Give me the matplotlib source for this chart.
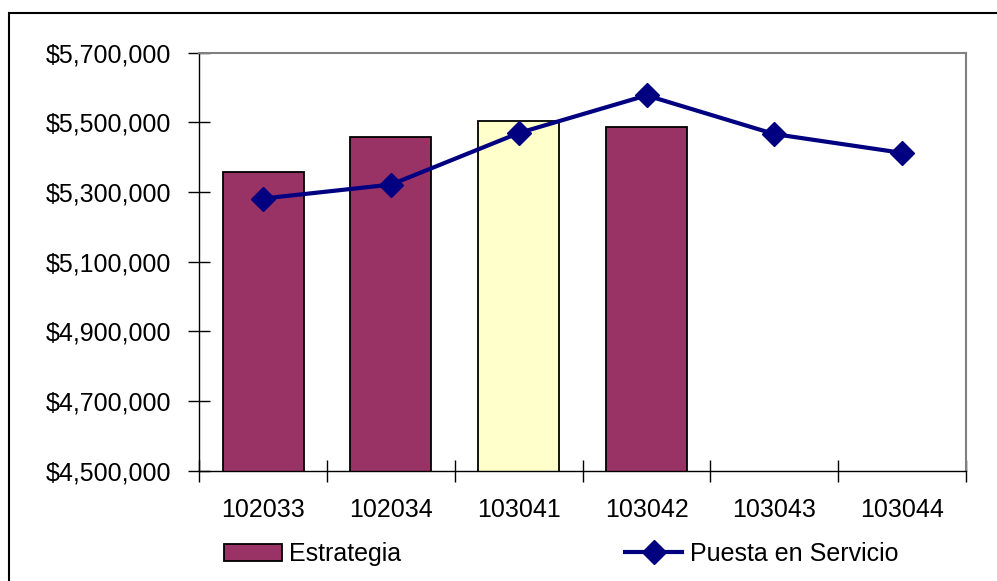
import matplotlib.pyplot as plt
import numpy as np
from matplotlib.patches import Rectangle
from matplotlib.ticker import FuncFormatter

plt.rcParams['font.family'] = ['Liberation Sans', 'DejaVu Sans']

categorias = ['102033', '102034', '103041', '103042', '103043', '103044']
estrategia = [5356000, 5458000, 5504000, 5487000]
colores_barras = ['#993366', '#993366', '#FFFFCC', '#993366']
puesta_servicio = [5281000, 5321000, 5469000, 5577000, 5466000, 5412000]

fig = plt.figure(figsize=(9.97, 5.81), dpi=100)
ax = fig.add_axes([0.1999, 0.1899, 0.7690, 0.7197])

# marco exterior del grafico
fig.patches.append(Rectangle((9 / 997, -0.1), 1.2, 1 - 13 / 581 + 0.1,
                             transform=fig.transFigure, fill=False,
                             edgecolor='black', linewidth=1.5))

x = np.arange(len(categorias))
barras = ax.bar(x[:len(estrategia)], estrategia, width=0.634, color=colores_barras,
                edgecolor='black', linewidth=1.3, zorder=2, label='Estrategia')
linea, = ax.plot(x, puesta_servicio, color='#000080', linewidth=3, marker='D',
                 markersize=12, zorder=3, label='Puesta en Servicio')

ax.set_xlim(-0.5, len(categorias) - 0.5)
ax.set_ylim(4500000, 5700000)
ax.set_yticks(np.arange(4500000, 5700001, 200000))
ax.yaxis.set_major_formatter(FuncFormatter(lambda v, p: '${:,.0f}'.format(v)))

ax.set_xticks(np.arange(len(categorias) + 1) - 0.5)
ax.set_xticklabels([])
ax.set_xticks(x, minor=True)
ax.set_xticklabels(categorias, minor=True)
ax.tick_params(axis='x', which='minor', length=0, labelsize=18, pad=20)
ax.tick_params(axis='x', which='major', direction='inout', length=16, width=1)
ax.tick_params(axis='y', direction='inout', length=16, width=1,
               labelsize=18, pad=12.5)

for lado in ['top', 'right']:
    ax.spines[lado].set_color('#808080')
    ax.spines[lado].set_linewidth(1.5)
for lado in ['left', 'bottom']:
    ax.spines[lado].set_color('black')
    ax.spines[lado].set_linewidth(1)

ax.legend([barras, linea], ['Estrategia', 'Puesta en Servicio'], ncol=2,
          loc='center left', bbox_to_anchor=(224 / 997, 1 - 554 / 581),
          bbox_transform=fig.transFigure, frameon=False, fontsize=18,
          borderpad=0, borderaxespad=0, handlelength=2.3, handletextpad=0.3,
          columnspacing=8.95)

fig.savefig('out.png', dpi=100)
